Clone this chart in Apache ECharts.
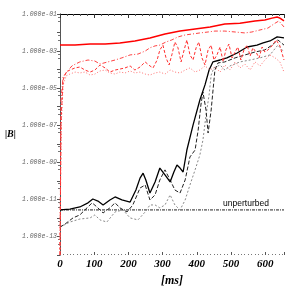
<!DOCTYPE html>
<html><head><meta charset="utf-8">
<script src="https://cdn.jsdelivr.net/npm/echarts@6/dist/echarts.min.js"></script>
<style>html,body{margin:0;padding:0;background:#fff}#c{width:299px;height:299px}</style>
</head><body><div id="c"></div>
<script>
// time in ms, values of |B|
const redSolidT = [0,44,88,132,175,219,263,307,351,395,439,482,526,570,599,620,635,643,655];
const redSolidV = [2.1e-3,2.1e-3,2.4e-3,2.4e-3,2.75e-3,3.5e-3,5.1e-3,8.3e-3,1.2e-2,1.55e-2,2.0e-2,2.9e-2,3.2e-2,4.2e-2,4.8e-2,6.0e-2,6.9e-2,6.0e-2,4.2e-2];

const redDashDotT = [0,3,9,20,35,58,82,102,117,140,161,181,205,228,249,263,278,292,310,327,345,366,386,409,433,453,482,512,541,561,585,608,629,640,655];
const redDashDotV = [1e-14,2.3e-6,4.0e-5,7.4e-5,1.6e-4,2.6e-4,3.3e-4,2.9e-4,2.0e-4,2.6e-4,3.3e-4,4.3e-4,6.2e-4,6.9e-4,1.0e-3,1.5e-3,1.9e-3,2.1e-3,3.1e-3,4.0e-3,5.8e-3,7.4e-3,8.3e-3,9.5e-3,1.07e-2,1.2e-2,1.2e-2,1.07e-2,9.5e-3,1.07e-2,1.38e-2,1.74e-2,3.2e-2,4.2e-2,2.0e-2];

const redDashT = [0,3,9,18,29,44,58,73,88,102,117,132,146,161,175,190,205,219,234,249,263,272,284,292,301,310,319,327,336,345,354,363,371,380,389,398,406,415,424,433,442,450,459,468,477,485,494,503,512,520,529,538,547,556,564,573,582,591,599,608,620,632,643,655];
const redDashV = [1e-14,1.9e-7,2.75e-5,7.4e-5,9.5e-5,1.23e-4,1.38e-4,9.5e-5,7.4e-5,9.5e-5,1.78e-4,1.23e-4,7.4e-5,9.5e-5,1.07e-4,1.23e-4,1.58e-4,9.5e-5,1.38e-4,2.6e-4,1.58e-4,1.23e-4,3.3e-4,1.15e-3,2.1e-3,4.3e-4,1.78e-4,6.2e-4,3.1e-3,1.5e-3,2.6e-4,1.15e-3,4.0e-3,6.2e-4,3.3e-4,1.5e-3,3.1e-3,4.3e-4,1.78e-4,1.15e-3,2.1e-3,3.3e-4,6.2e-4,1.66e-3,2.6e-4,1.15e-3,2.4e-3,4.3e-4,8.9e-4,1.66e-3,3.3e-4,1.15e-3,2.1e-3,5.4e-4,1.5e-3,8.9e-4,4.3e-4,1.66e-3,8.9e-4,1.15e-3,1.9e-3,4.0e-3,1.9e-3,3.3e-4];

const redDotT = [0,3,9,18,29,44,58,73,88,102,117,132,146,161,175,190,205,219,234,249,263,278,292,307,322,336,351,366,380,395,409,424,439,453,468,482,497,512,526,541,556,570,585,599,614,629,643,655];
const redDotV = [1e-14,5.5e-8,1.48e-5,4.6e-5,5.75e-5,7.4e-5,6.6e-5,7.4e-5,5.1e-5,5.75e-5,8.5e-5,9.5e-5,6.6e-5,5.75e-5,7.4e-5,6.6e-5,8.5e-5,6.6e-5,7.4e-5,5.75e-5,5.1e-5,6.6e-5,7.4e-5,5.75e-5,9.5e-5,7.4e-5,6.6e-5,9.5e-5,1.23e-4,7.4e-5,9.5e-5,1.58e-4,9.5e-5,1.38e-4,7.4e-5,1.78e-4,9.5e-5,2.6e-4,1.23e-4,2.0e-4,9.5e-5,2.6e-4,1.58e-4,3.3e-4,6.2e-4,4.3e-4,2.6e-4,7.4e-5];

const blackSolidT = [0,29,58,82,96,111,126,146,161,181,205,222,234,243,251,263,278,292,307,322,333,342,351,360,371,389,409,424,436,447,468,488,518,547,576,594,614,635,655];
const blackSolidV = [2.7e-12,3.0e-12,3.9e-12,6.5e-12,1.05e-11,8.1e-12,5.0e-12,9.3e-12,1.35e-11,9.3e-12,7.2e-12,3.2e-11,1.4e-10,2.6e-10,1.12e-10,2.2e-11,8.7e-11,4.9e-10,2.1e-10,8.7e-11,3.0e-10,7.2e-10,4.9e-10,3.0e-10,4.6e-9,1.02e-7,2.3e-6,1.5e-5,9.5e-5,2.6e-4,3.3e-4,4.3e-4,7.9e-4,1.66e-3,2.1e-3,2.75e-3,3.5e-3,5.8e-3,5.1e-3];

const blackDashT = [0,15,38,58,79,94,108,126,146,161,175,196,213,234,249,263,278,292,307,322,336,351,366,380,395,404,412,418,427,433,442,453,462,482,512,541,570,599,620,637,655];
const blackDashV = [3.2e-13,4.7e-13,1.0e-12,1.45e-12,3.5e-12,6.5e-12,3.9e-12,1.86e-12,3.5e-12,6.5e-12,3.5e-12,2.1e-12,5.0e-12,4.1e-11,6.0e-11,9.3e-12,1.74e-11,1.12e-10,3.9e-10,1.12e-10,3.2e-11,2.2e-11,1.12e-10,1.95e-9,4.6e-9,5.5e-8,1.23e-6,6.2e-6,6.6e-7,3.8e-8,6.6e-7,9.5e-5,2.3e-4,2.6e-4,4.3e-4,6.2e-4,8.9e-4,1.15e-3,2.1e-3,4.0e-3,2.1e-3];

const greyDotT = [0,29,58,88,102,117,137,161,184,205,228,249,263,278,292,307,322,336,351,366,380,395,409,418,427,436,442,450,468,482,497,526,556,585,614,637,655];
const greyDotV = [3.2e-13,6.0e-13,8.7e-13,1.0e-12,1.45e-12,7.8e-13,6.0e-13,2.1e-12,2.7e-12,1.0e-12,7.8e-13,2.1e-12,5.0e-12,5.0e-12,3.5e-12,5.0e-12,1.74e-11,5.0e-12,2.7e-12,9.3e-12,6.0e-11,3.9e-10,2.5e-9,1.6e-8,3.5e-7,4.3e-6,5.1e-5,1.23e-4,1.78e-4,9.5e-5,1.58e-4,2.6e-4,3.3e-4,4.3e-4,6.2e-4,2.1e-3,8.9e-4];

const unperturbedT = [0,655];
const unperturbedV = [2.7e-12,2.7e-12];

const xTicks = [0,100,200,300,400,500,600];

const zip = (t,v) => t.map((x,i)=>[x,v[i]]);
const chart = echarts.init(document.getElementById('c'), null, {renderer:'canvas'});

function yLabel(v){
  const e = Math.round(Math.log10(v));
  if (e % 2 === 0) return '';
  return '1.000e' + (e<0?'-':'+') + String(Math.abs(e)).padStart(2,'0');
}
const XMIN=0, XMAX=655, YMIN=1e-14, YMAX=1e-1;
const line = (name, t, v, color, type, width) => ({
  name, type:'line', data: zip(t,v), showSymbol:false, symbol:'none', smooth:false,
  lineStyle:{color, type, width}, z: 3, animation:false, silent:true
});

chart.setOption({
  animation:false,
  backgroundColor:'#fff',
  grid:{left:60, right:15, top:14, bottom:44, containLabel:false},
  xAxis:[{
    type:'value', min:XMIN, max:XMAX, interval:100, position:'bottom',
    axisLine:{show:false},
    axisTick:{show:true, inside:true, length:3, lineStyle:{color:'#555', width:1}},
    minorTick:{show:true, splitNumber:10, length:1, lineStyle:{color:'#777'}},
    splitLine:{show:false},
    axisLabel:{show:true, margin:4, color:'#000', fontFamily:'Liberation Serif', fontStyle:'italic', fontWeight:'bold', fontSize:11,
      formatter:v => xTicks.includes(v) ? String(v) : ''},
    name:'[ms]', nameLocation:'middle', nameGap:19,
    nameTextStyle:{color:'#000', fontFamily:'Liberation Serif', fontStyle:'italic', fontWeight:'bold', fontSize:12}
  },{
    type:'value', min:XMIN, max:XMAX, interval:100, position:'top',
    axisLine:{show:true, lineStyle:{color:'#000', width:1}},
    axisTick:{show:true, inside:true, length:4, lineStyle:{color:'#333'}},
    minorTick:{show:true, splitNumber:5, length:2, lineStyle:{color:'#555'}},
    splitLine:{show:false}, axisLabel:{show:false}
  }],
  yAxis:[{
    type:'log', logBase:10, min:YMIN, max:YMAX, interval:1, position:'left',
    axisLine:{show:true, lineStyle:{color:'#777', width:1}},
    axisTick:{show:true, inside:false, length:3, lineStyle:{color:'#777'}},
    minorTick:{show:true, splitNumber:3, length:2, lineStyle:{color:'#999'}},
    splitLine:{show:false},
    axisLabel:{show:true, margin:3, color:'#666', fontFamily:'Liberation Mono', fontStyle:'italic', fontSize:6.5, formatter:yLabel},
    name:'|B|', nameLocation:'middle', nameRotate:0, nameGap:42,
    nameTextStyle:{color:'#000', fontFamily:'Liberation Serif', fontStyle:'italic', fontWeight:'bold', fontSize:10}
  },{
    type:'log', logBase:10, min:YMIN, max:YMAX, interval:1, position:'right',
    axisLine:{show:true, lineStyle:{color:'#555', width:1}},
    axisTick:{show:true, inside:true, length:3, lineStyle:{color:'#555'}},
    minorTick:{show:true, splitNumber:3, length:2, lineStyle:{color:'#777'}},
    splitLine:{show:false}, axisLabel:{show:false}
  }],
  series:[
    line('unperturbed', unperturbedT, unperturbedV, '#222', [3,1,1,1], 1),
    line('grey', greyDotT, greyDotV, '#888', [2,2], 1),
    line('blackDash', blackDashT, blackDashV, '#222', [4,2], 1),
    line('blackSolid', blackSolidT, blackSolidV, '#000', 'solid', 1.3),
    line('redDot', redDotT, redDotV, '#ff7070', [1,2], 1),
    line('redDash', redDashT, redDashV, '#ff3030', [3,2], 1),
    line('redDashDot', redDashDotT, redDashDotV, '#ff4040', [4,2,1,2], 1),
    line('redSolid', redSolidT, redSolidV, '#ff0000', 'solid', 1.5)
  ]
});
const p = chart.convertToPixel({xAxisIndex:0, yAxisIndex:0}, [585, 2.7e-12]);
chart.setOption({graphic:[{type:'text', left:p[0]-37, top:p[1]-11,
  style:{text:'unperturbed', fill:'#000', font:'8.5px "Liberation Sans"'}}]});
</script></body></html>
